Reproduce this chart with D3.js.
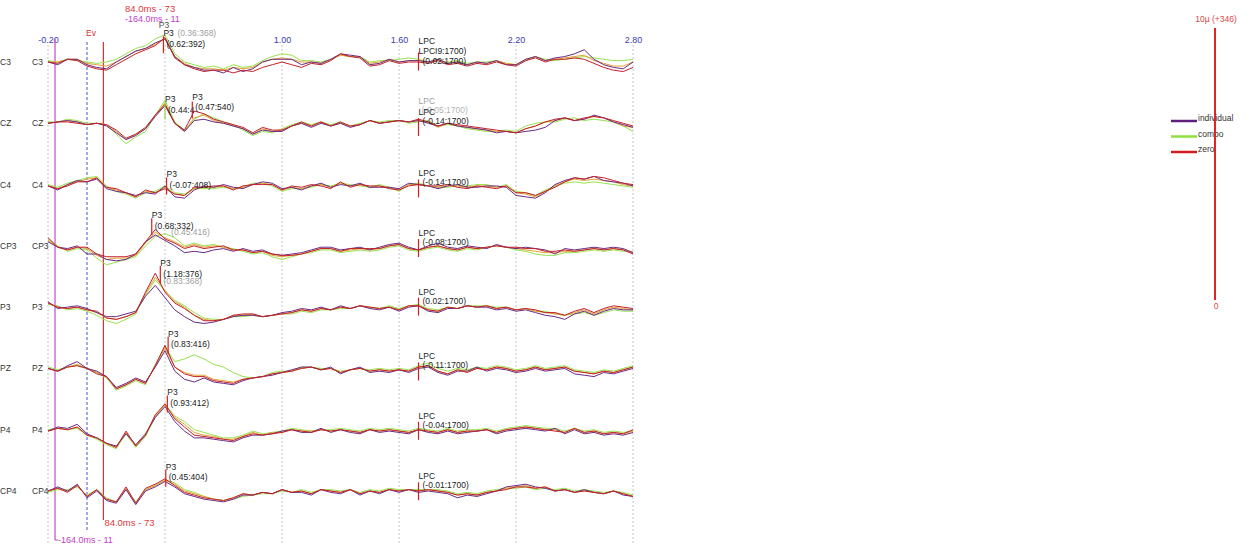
<!DOCTYPE html>
<html><head><meta charset="utf-8">
<script src="https://cdn.jsdelivr.net/npm/d3@7"></script>
<style>body{margin:0;background:#fff}svg{display:block}text{font-family:"Liberation Sans",Arial,sans-serif}</style>
</head><body><svg id="c" width="1253" height="551"></svg>
<script>
const channels = ["C3","CZ","C4","CP3","P3","PZ","P4","CP4"];
const gridTimes = [-0.2, 0.4, 1.0, 1.6, 2.2, 2.8];
const tickValues = [-0.2, 1.0, 1.6, 2.2, 2.8];
const tickLabels = ["-0.20","1.00","1.60","2.20","2.80"];
const legendNames = ["individual","combo","zero"];
// sample times (s), 50 ms steps from -0.2 to 2.8
const times = d3.range(61).map(i => -0.2 + i * 0.05);

// µV values per channel, series "individual"
const individual_C3 = [0,-0.1,0.1,0.1,-0.1,-0.2,-0.25,0,0.2,0.4, 0.5,0.7,0.85,0.2,-0.1,-0.2,-0.3,-0.3,-0.4,-0.2, -0.35,-0.25,0,0.1,0.1,0.1,-0.1,0,-0.05,0.1, 0.3,0.25,0.2,-0.1,-0.05,0.1,0,0.05,0.05,0, 0.1,-0.05,0,-0.1,0,-0.05,0.05,-0.1,-0.1,0.1, 0.2,0.05,0.15,0.2,0.3,0.45,0.1,-0.1,-0.2,-0.25, 0];
const individual_CZ = [0,0.05,0.1,0.05,-0.05,0,-0.1,-0.35,-0.6,-0.45, -0.2,0.25,0.65,0,-0.3,0.1,0.15,0.05,0,-0.1, -0.2,-0.4,-0.25,-0.3,-0.3,-0.1,0,-0.15,0,-0.1, 0,-0.15,-0.05,0.1,0,0.05,0.1,0.05,0.1,0, -0.1,0,-0.1,-0.15,-0.2,-0.25,-0.35,-0.3,-0.35,-0.3, -0.25,-0.15,0.1,0.2,0.1,0.15,0.3,0.2,0.05,-0.05, -0.15];
const individual_C4 = [-0.05,-0.2,0,0.15,0.1,0.2,-0.15,-0.25,-0.3,-0.4, -0.3,-0.35,-0.05,-0.45,-0.5,-0.2,-0.05,-0.1,0,-0.1, -0.15,0,0.1,0.05,-0.15,-0.1,-0.2,-0.05,0.05,-0.1, 0,-0.05,0.05,-0.1,-0.1,-0.1,-0.15,0.05,0,-0.05, -0.15,-0.05,0,-0.1,-0.1,-0.05,-0.05,-0.1,-0.4,-0.45, -0.5,-0.3,0,0.15,0.25,0.2,0.3,0.15,0.1,0.05, -0.05];
const individual_CP3 = [0.15,-0.05,-0.1,0,-0.3,-0.3,-0.5,-0.55,-0.5,-0.3, 0.15,0.4,0.2,0,-0.25,-0.2,-0.25,-0.15,-0.1,-0.2, -0.1,-0.2,-0.15,-0.3,-0.35,-0.3,-0.25,-0.15,-0.05,-0.05, -0.15,-0.1,-0.05,-0.15,-0.05,0.05,0.1,-0.05,-0.15,0, 0.1,-0.05,-0.1,0,-0.05,-0.1,0.05,-0.05,-0.1,-0.05, -0.1,-0.15,-0.3,-0.1,-0.15,-0.1,-0.05,-0.1,-0.05,-0.1, -0.25];
const individual_P3 = [0.2,-0.05,0,0.05,-0.05,-0.2,-0.35,-0.35,-0.25,-0.15, 0.4,0.8,0.35,-0.1,-0.35,-0.55,-0.6,-0.55,-0.45,-0.35, -0.3,-0.3,-0.35,-0.3,-0.2,-0.15,-0.05,-0.1,0,-0.1, 0.05,-0.05,0.05,-0.05,-0.1,0,-0.15,0,0.05,-0.15, -0.2,-0.05,-0.05,0.05,0,0,-0.1,-0.05,-0.15,-0.1, -0.2,-0.3,-0.35,-0.45,-0.25,-0.15,-0.3,-0.15,-0.05,-0.1, -0.1];
const individual_PZ = [0,-0.1,0.1,0.25,0,-0.1,-0.3,-0.7,-0.55,-0.35, -0.5,0.05,0.65,-0.1,-0.4,-0.5,-0.35,-0.5,-0.55,-0.6, -0.45,-0.35,-0.3,-0.25,-0.15,-0.05,0.05,0.05,-0.05,0.05, -0.2,-0.05,0.05,-0.15,-0.1,-0.15,-0.05,-0.15,0,0.05, -0.15,-0.25,-0.1,-0.1,0.05,-0.1,0,-0.05,-0.15,-0.1, 0,-0.1,-0.05,0,-0.2,-0.25,-0.3,-0.15,-0.2,-0.1, 0];
const individual_P4 = [-0.05,0.1,0.05,0.2,-0.15,-0.3,-0.5,-0.6,-0.15,-0.55, -0.15,0.45,0.85,0.3,-0.05,-0.3,-0.3,-0.35,-0.4,-0.45, -0.3,-0.2,-0.2,-0.15,-0.05,0,-0.1,-0.1,0.05,-0.1, 0,-0.1,-0.15,0,-0.1,-0.05,-0.1,-0.15,0,-0.1, -0.15,-0.05,-0.15,-0.1,-0.05,0,-0.15,-0.05,0,0.05, 0,-0.05,0.05,-0.15,0,-0.15,-0.1,-0.2,-0.15,-0.2, -0.1];
const individual_CP4 = [0,0.15,0,0.25,-0.25,0,-0.35,-0.45,0.05,-0.5, 0,0.15,0.35,0.15,-0.1,-0.2,-0.3,-0.35,-0.4,-0.3, -0.15,-0.15,-0.05,-0.1,0.05,-0.05,-0.05,-0.15,0.05,-0.05, -0.1,0.05,-0.15,0,-0.1,0.05,-0.05,0.05,-0.05,0, -0.05,-0.1,-0.25,-0.15,-0.2,-0.1,0,0.15,0.2,0.25, 0.15,0.1,0,0.05,-0.05,0.05,-0.05,-0.1,0,-0.15, -0.2];

// series "combo"
const combo_C3 = [0.05,0,0.1,0.05,0,-0.05,0,0.1,0.3,0.5, 0.6,0.85,1.0,0.3,0,-0.1,-0.2,-0.15,-0.25,-0.1, -0.2,-0.15,0.05,0.2,0.3,0.25,0.05,0.05,0,0.1, 0.25,0.2,0.2,0,0.05,0.05,0.1,0.15,0.1,0, 0.05,0,0.05,-0.05,0,0,0.05,-0.05,-0.1,0.05, 0.2,0.1,0.05,0.1,0.15,0.2,0.15,0.1,0.05,0.05, 0.1];
const combo_CZ = [0.05,0.05,0.15,0.1,0,0,-0.05,-0.4,-0.75,-0.5, -0.3,0.3,0.85,0.05,-0.25,0.15,0.35,0.2,0.05,-0.05, -0.25,-0.45,-0.3,-0.35,-0.2,-0.05,0.05,-0.05,0.05,-0.05, 0.05,-0.1,0,0.1,0.05,0.1,0.1,0,0.05,0.1, -0.1,-0.05,-0.1,-0.2,-0.25,-0.3,-0.3,-0.25,-0.3,-0.1, 0,0.05,0.05,0.15,0.2,0.1,0.15,0.1,0.05,-0.1, -0.3];
const combo_C4 = [0,-0.1,0.05,0.15,0.25,0.3,-0.05,-0.25,-0.35,-0.5, -0.3,-0.25,-0.05,-0.3,-0.35,-0.15,-0.15,-0.15,-0.1,-0.15, -0.1,0.05,0.05,-0.05,-0.25,-0.15,-0.15,-0.1,0,-0.05, 0.05,0,-0.05,-0.1,0,-0.1,-0.25,0,0.05,-0.05, -0.1,-0.1,-0.05,-0.05,0,0,-0.1,0,-0.25,-0.3, -0.4,-0.2,-0.05,0.05,0.1,0.05,0.1,0.05,0,-0.05, -0.1];
const combo_CP3 = [0.25,0,-0.2,-0.1,-0.15,-0.45,-0.7,-0.6,-0.5,-0.4, 0,0.35,0.45,0.3,0,0.1,0,0.05,-0.05,-0.1, -0.2,-0.3,-0.25,-0.4,-0.5,-0.4,-0.3,-0.25,-0.15,-0.15, -0.25,-0.2,-0.15,-0.2,-0.15,-0.05,0,-0.15,-0.2,-0.1, -0.05,-0.15,-0.2,-0.1,-0.15,-0.05,0,-0.05,-0.15,-0.2, -0.3,-0.35,-0.35,-0.25,-0.25,-0.2,-0.15,-0.2,-0.15,-0.2, -0.2];
const combo_P3 = [0.1,0.05,-0.1,-0.05,-0.15,-0.3,-0.5,-0.6,-0.45,-0.25, 0.45,1.0,0.6,0.25,0.05,-0.2,-0.4,-0.45,-0.45,-0.35, -0.35,-0.3,-0.35,-0.3,-0.25,-0.25,-0.15,-0.2,-0.1,-0.1, -0.05,-0.05,0.05,0,-0.05,0.05,-0.05,0.05,0.1,-0.05, -0.1,0,-0.05,0.05,0.05,0.05,0,0,-0.1,-0.05, -0.15,-0.15,-0.25,-0.3,-0.25,-0.2,-0.3,-0.2,-0.1,-0.15, -0.15];
const combo_PZ = [0.05,-0.05,0.05,0.1,0,-0.15,-0.35,-0.8,-0.65,-0.45, -0.6,0.15,0.8,0.25,0.35,0.5,0.35,0.15,0.05,-0.15, -0.3,-0.35,-0.3,-0.15,-0.1,-0.1,0.05,0.05,0,0, -0.1,-0.05,0,-0.05,0,-0.05,0,-0.05,0.1,0.2, 0,-0.1,0,-0.05,0.05,0,0.1,0.05,-0.05,0, 0.1,0,0.05,0.1,-0.05,-0.1,-0.15,-0.05,-0.1,0, 0.1];
const combo_P4 = [0,0.05,0,0.05,-0.2,-0.35,-0.55,-0.7,-0.15,-0.65, -0.25,0.45,0.95,0.5,0.3,0,-0.1,-0.2,-0.3,-0.3, -0.2,-0.05,-0.15,-0.1,-0.05,0.05,0,-0.05,0,0, 0.05,0,-0.05,0.05,0,0.05,0,-0.05,0.05,0, -0.05,0.05,-0.05,0,0,0.05,-0.05,0.05,0.1,0.15, 0.1,0.05,0.05,-0.05,0.05,-0.05,0,-0.1,-0.05,-0.1, -0.05];
const combo_CP4 = [-0.05,0.05,0.05,0.15,-0.15,0.05,-0.25,-0.4,0.05,-0.4, 0.05,0.2,0.4,0.3,0.05,-0.05,-0.2,-0.3,-0.35,-0.3, -0.2,-0.15,-0.1,-0.1,0,-0.05,0.05,-0.05,0.05,0.05, 0,0.05,-0.05,0.05,0,0.1,0.05,0.05,0.05,0.05, 0.05,0,-0.1,-0.05,-0.1,0,0.05,0.1,0.1,0.15, 0.05,0.1,0.05,0.1,0,0.05,0,-0.05,0,-0.05, -0.15];

// series "zero"
const zero_C3 = [0,-0.05,0.1,0.05,-0.15,-0.25,-0.3,-0.1,0.1,0.3, 0.45,0.6,0.9,0.15,-0.1,-0.25,-0.35,-0.3,-0.3,-0.4, -0.3,-0.35,-0.2,-0.1,0,-0.1,-0.2,-0.05,-0.1,0.05, 0.3,0.2,0.15,-0.15,-0.1,0.05,-0.05,0,0,-0.05, 0.05,-0.1,-0.05,-0.15,-0.05,-0.1,0,-0.1,-0.15,0.05, 0.15,0,0.1,0.1,0.15,0.1,-0.05,-0.2,-0.3,-0.35, -0.2];
const zero_CZ = [0,0.05,0.05,0,-0.05,0,-0.05,-0.25,-0.55,-0.4, -0.15,0.3,0.7,0,-0.25,0.45,0.35,0.15,0.05,-0.05, -0.15,-0.35,-0.15,-0.25,-0.25,-0.1,0.05,-0.1,0.05,-0.1, 0.05,-0.1,-0.05,0.1,0,0.05,0.1,0.05,0.15,0.05, -0.1,0,-0.05,-0.1,-0.15,-0.2,-0.25,-0.3,-0.35,-0.2, -0.1,0.05,0.15,0.2,0.1,0.2,0.25,0.2,0.1,0, -0.1];
const zero_C4 = [-0.05,-0.15,-0.05,0.1,0.1,0.25,-0.1,-0.15,-0.3,-0.45, -0.2,-0.3,-0.15,-0.35,-0.4,-0.1,-0.1,-0.05,-0.05,-0.2, -0.05,0,0,0,-0.2,-0.05,-0.1,0,-0.05,-0.15, 0.1,-0.1,0,-0.05,-0.05,-0.15,-0.2,-0.05,0,-0.05, -0.05,0,-0.1,-0.15,-0.05,-0.1,-0.15,-0.05,-0.3,-0.3, -0.4,-0.25,-0.1,0.1,0.25,0.2,0.3,0.25,0.15,0.05, 0];
const zero_CP3 = [0.3,-0.05,-0.15,-0.05,-0.05,-0.3,-0.4,-0.4,-0.4,-0.3, 0.15,0.6,0.25,0.1,-0.1,0,-0.1,-0.05,0,-0.15, -0.15,-0.25,-0.2,-0.3,-0.35,-0.35,-0.3,-0.2,-0.1,-0.1, -0.2,-0.1,-0.1,-0.1,-0.1,0,0.05,-0.1,-0.15,-0.05, 0,-0.1,-0.15,-0.05,-0.1,-0.05,0,-0.05,-0.05,-0.1, -0.1,-0.2,-0.2,-0.15,-0.2,-0.15,-0.1,-0.15,-0.1,-0.15, -0.3];
const zero_P3 = [0.15,0,-0.05,0,-0.1,-0.15,-0.4,-0.45,-0.35,-0.2, 0.55,1.25,0.55,0.15,-0.05,-0.3,-0.5,-0.5,-0.45,-0.3, -0.25,-0.25,-0.35,-0.3,-0.25,-0.2,-0.1,-0.15,-0.05,-0.1, 0,-0.05,0.05,0,-0.05,0,-0.1,0.05,0.05,-0.1, -0.15,0,-0.05,0.05,0,0.05,-0.05,0,-0.1,-0.05, -0.1,-0.2,-0.2,-0.3,-0.15,-0.05,-0.2,-0.05,0.05,0, -0.05];
const zero_PZ = [0,-0.1,0.05,0.1,0,-0.2,-0.3,-0.75,-0.6,-0.4, -0.55,0.1,0.85,0.05,-0.2,-0.3,-0.3,-0.45,-0.5,-0.55, -0.4,-0.35,-0.3,-0.2,-0.15,-0.1,0,0.05,-0.05,0, -0.15,-0.05,0,-0.1,-0.05,-0.1,-0.05,-0.1,0.05,0.1, -0.1,-0.2,-0.05,-0.15,0,-0.05,0.05,0,-0.1,-0.05, 0.05,-0.05,0,0.05,-0.1,-0.15,-0.2,-0.1,-0.15,-0.05, 0.05];
const zero_P4 = [-0.05,0.05,0,0.1,-0.2,-0.3,-0.5,-0.65,-0.05,-0.6, -0.2,0.55,0.95,0.4,0.1,-0.2,-0.25,-0.3,-0.35,-0.4, -0.25,-0.15,-0.2,-0.15,-0.1,0,-0.05,-0.1,0,-0.05, 0,-0.05,-0.1,0,-0.05,0,-0.05,-0.1,0,-0.05, -0.1,0,-0.1,-0.05,-0.05,0,-0.1,0,0.05,0.1, 0.05,0,-0.05,-0.1,0.05,-0.1,-0.05,-0.15,-0.1,-0.15, 0];
const zero_CP4 = [0,0.1,-0.05,0.2,-0.2,0.05,-0.3,-0.4,0.15,-0.45, 0.1,0.25,0.45,0.2,-0.05,-0.15,-0.25,-0.3,-0.35,-0.25, -0.1,-0.15,-0.05,-0.1,0.05,-0.05,0,-0.1,0.05,0, -0.05,0.05,-0.1,0,-0.05,0.05,0,0.05,0,0.05, 0,-0.05,-0.15,-0.1,-0.15,-0.05,0,0.05,0.15,0.15, 0.1,0.15,0,0.05,-0.05,0,-0.05,-0.1,0,-0.1, -0.2];

// unlabelled orange trace
const orange_C3 = [0,0,0.1,0.1,-0.05,-0.1,-0.15,0,0.2,0.4, 0.5,0.65,0.85,0.2,-0.05,-0.2,-0.25,-0.25,-0.3,-0.2, -0.25,-0.2,0,0.1,0.15,0.1,0,0,-0.05,0.1, 0.25,0.2,0.2,-0.05,0,0.1,0,0.05,0.05,0, 0.1,-0.05,0,-0.1,0,-0.05,0.05,-0.05,-0.1,0.1, 0.2,0.05,0.1,0.15,0.2,0.25,0.05,-0.05,-0.15,-0.15, 0];
const orange_CZ = [0,0.05,0.1,0.05,-0.05,0,-0.05,-0.3,-0.6,-0.4, -0.2,0.3,0.75,0,-0.3,0.2,0.3,0.1,0,-0.1, -0.2,-0.4,-0.2,-0.3,-0.25,-0.1,0,-0.1,0.05,-0.1, 0,-0.1,-0.05,0.1,0,0.05,0.1,0.05,0.1,0.05, -0.15,0,-0.1,-0.15,-0.2,-0.25,-0.3,-0.3,-0.35,-0.2, -0.1,0.05,0.1,0.2,0.1,0.15,0.25,0.2,0.05,-0.1, -0.15];
const orange_C4 = [-0.05,-0.15,0,0.1,0.2,0.25,-0.1,-0.2,-0.3,-0.45, -0.25,-0.3,-0.1,-0.35,-0.4,-0.15,-0.1,-0.1,-0.05,-0.15, -0.1,0,0.05,0,-0.2,-0.1,-0.15,-0.05,0,-0.1, 0.05,-0.05,0,-0.1,-0.05,-0.1,-0.2,0,0,-0.05, -0.1,-0.05,-0.05,-0.1,-0.05,-0.05,-0.1,-0.05,-0.3,-0.35, -0.45,-0.25,-0.05,0.1,0.2,0.15,0.2,0.15,0.1,0, -0.05];
const orange_CP3 = [0.2,-0.05,-0.15,-0.05,-0.1,-0.35,-0.5,-0.45,-0.45,-0.35, 0.1,0.5,0.3,0.15,-0.05,0.05,-0.05,0,-0.05,-0.15, -0.15,-0.25,-0.2,-0.35,-0.4,-0.35,-0.3,-0.2,-0.1,-0.1, -0.2,-0.15,-0.1,-0.15,-0.1,0,0.05,-0.1,-0.15,-0.05, 0,-0.1,-0.15,-0.05,-0.1,-0.05,0,-0.05,-0.1,-0.15, -0.2,-0.25,-0.25,-0.2,-0.2,-0.15,-0.1,-0.15,-0.1,-0.15, -0.25];
const orange_P3 = [0.15,0,-0.05,0,-0.1,-0.2,-0.4,-0.45,-0.35,-0.2, 0.5,1.1,0.6,0.2,0,-0.3,-0.45,-0.5,-0.45,-0.3, -0.3,-0.25,-0.35,-0.3,-0.25,-0.2,-0.1,-0.15,-0.05,-0.1, 0,-0.05,0.05,0,-0.05,0,-0.1,0.05,0.05,-0.1, -0.15,0,-0.05,0.05,0,0.05,-0.05,0,-0.1,-0.05, -0.15,-0.2,-0.25,-0.3,-0.2,-0.1,-0.25,-0.1,0,-0.05, -0.1];
const orange_PZ = [0,-0.1,0.05,0.15,0,-0.15,-0.3,-0.75,-0.6,-0.4, -0.55,0.1,0.75,0.05,-0.15,-0.25,-0.25,-0.4,-0.45,-0.5, -0.4,-0.35,-0.3,-0.2,-0.15,-0.1,0,0.05,-0.05,0, -0.15,-0.05,0,-0.1,-0.05,-0.1,-0.05,-0.1,0.05,0.1, -0.1,-0.2,-0.05,-0.1,0,-0.05,0.05,0,-0.1,-0.05, 0.05,-0.05,0,0.05,-0.1,-0.15,-0.2,-0.1,-0.15,-0.05, 0.05];
const orange_P4 = [-0.05,0.05,0,0.1,-0.2,-0.3,-0.5,-0.65,-0.1,-0.6, -0.2,0.5,0.9,0.45,0.2,-0.1,-0.2,-0.25,-0.35,-0.35, -0.25,-0.1,-0.2,-0.1,-0.1,0,-0.05,-0.05,0,-0.05, 0,-0.05,-0.1,0,-0.05,0,-0.05,-0.1,0,-0.05, -0.1,0,-0.1,-0.05,-0.05,0,-0.1,0,0.05,0.1, 0.05,0,0,-0.1,0.05,-0.1,-0.05,-0.15,-0.1,-0.15, -0.05];
const orange_CP4 = [0,0.1,0,0.2,-0.2,0.05,-0.3,-0.4,0.1,-0.45, 0.05,0.2,0.4,0.25,0,-0.1,-0.2,-0.3,-0.35,-0.25, -0.1,-0.15,-0.05,-0.1,0.05,-0.05,0,-0.1,0.05,0, -0.05,0.05,-0.1,0,-0.05,0.05,0,0.05,0,0.05, 0,-0.05,-0.15,-0.1,-0.15,-0.05,0,0.1,0.15,0.2, 0.1,0.15,0,0.05,-0.05,0,-0.05,-0.1,0,-0.1, -0.2];

// peak annotations
const p3Amp = [0.62,0.44,-0.07,0.68,1.18,0.83,0.93,0.45];
const p3Lat = [392,400,408,332,376,416,412,404];
const p3Text = ["(0.62:392)","(0.44:4","(-0.07:408)","(0.68:332)","(1.18:376)","(0.83:416)","(0.93:412)","(0.45:404)"];
const lpcAmp = [0.02,-0.14,-0.14,-0.08,0.02,-0.11,-0.04,-0.01];
const lpcLat = 1700;
const cursorA = -0.164, cursorB = 0.084;

// ---------- drawing ----------
const svg = d3.select("#c");
const x = d3.scaleLinear().domain([-0.2, 2.8]).range([48, 633]);
const rowY = d3.scalePoint().domain(channels).range([62, 491]);
const amp = d3.scaleLinear().domain([0, 10]).range([0, -272]);
const yv = (ch, v) => rowY(ch) + amp(v);

const series = [
  {name:"combo", color:"#97e24f", data:[combo_C3,combo_CZ,combo_C4,combo_CP3,combo_P3,combo_PZ,combo_P4,combo_CP4]},
  {name:"orange", color:"#e2a232", data:[orange_C3,orange_CZ,orange_C4,orange_CP3,orange_P3,orange_PZ,orange_P4,orange_CP4]},
  {name:"individual", color:"#6a2a86", data:[individual_C3,individual_CZ,individual_C4,individual_CP3,individual_P3,individual_PZ,individual_P4,individual_CP4]},
  {name:"zero", color:"#c3202c", data:[zero_C3,zero_CZ,zero_C4,zero_CP3,zero_P3,zero_PZ,zero_P4,zero_CP4]}
];
const legendColors = {individual:"#5e1f7e", combo:"#8fe040", zero:"#d01c1c"};

// grid
svg.append("g").selectAll("line").data(gridTimes).join("line")
  .attr("x1", d => x(d)).attr("x2", d => x(d)).attr("y1", 45).attr("y2", 545)
  .attr("stroke", "#c6c6c6").attr("stroke-dasharray", "2,2");

// axis labels
const ax = svg.append("g").attr("transform", "translate(0,44)")
  .call(d3.axisTop(x).tickValues(tickValues).tickSize(0).tickPadding(1).tickFormat((d,i) => tickLabels[i]));
ax.select(".domain").remove();
ax.selectAll("text").attr("fill", "#3c3cb4").attr("font-size", 9).attr("font-family", '"Liberation Sans",Arial,sans-serif');

// event & cursor lines
svg.append("line").attr("x1", x(0)).attr("x2", x(0)).attr("y1", 42).attr("y2", 532)
  .attr("stroke", "#4654cc").attr("stroke-dasharray", "3,2");
svg.append("line").attr("x1", x(cursorA)).attr("x2", x(cursorA)).attr("y1", 39).attr("y2", 540)
  .attr("stroke", "#c04ccc").attr("stroke-width", 1.2);
svg.append("line").attr("x1", x(cursorA)).attr("x2", x(cursorA)+3).attr("y1", 540).attr("y2", 540)
  .attr("stroke", "#c04ccc");
svg.append("line").attr("x1", x(cursorB)).attr("x2", x(cursorB)).attr("y1", 42).attr("y2", 520)
  .attr("stroke", "#d83030").attr("stroke-width", 1.2);

svg.append("text").attr("x", x(0)-1).attr("y", 36).attr("fill", "#d03030").attr("font-size", 8.5).text("Ev");
svg.append("text").attr("x", 125).attr("y", 12).attr("fill", "#e03a3a").attr("font-size", 9.5).text("84.0ms -  73");
svg.append("text").attr("x", 125).attr("y", 22).attr("fill", "#c040c8").attr("font-size", 9).text("-164.0ms -  11");
svg.append("text").attr("x", x(cursorB)+1).attr("y", 526).attr("fill", "#e03a3a").attr("font-size", 9.5).text("84.0ms -  73");
svg.append("text").attr("x", x(cursorA)+3).attr("y", 543).attr("fill", "#c040c8").attr("font-size", 9).text("-164.0ms -  11");

// channel labels
const lab = svg.append("g").attr("font-size", 8.5).attr("fill", "#333");
channels.forEach(ch => {
  lab.append("text").attr("x", 0).attr("y", rowY(ch)+3).text(ch);
  lab.append("text").attr("x", 32).attr("y", rowY(ch)+3).text(ch);
});

// traces
const line = d3.line().x((d,i) => x(times[i])).y(d => d);
series.forEach(s => {
  const g = svg.append("g");
  channels.forEach((ch, ci) => {
    g.append("path").attr("d", line(s.data[ci].map(v => yv(ch, v))))
      .attr("fill", "none").attr("stroke", s.color).attr("stroke-width", 1).attr("stroke-linejoin", "round");
  });
});

// peak annotations
const ann = svg.append("g").attr("font-size", 8.5).attr("fill", "#222");
channels.forEach((ch, ci) => {
  const xp = x(p3Lat[ci]/1000), yp = yv(ch, p3Amp[ci]);
  ann.append("line").attr("x1", xp).attr("x2", xp).attr("y1", yp-9).attr("y2", yp+8)
    .attr("stroke", ci === 1 ? "#9ad040" : "#d02020").attr("stroke-width", 1.2);
  ann.append("text").attr("x", xp).attr("y", yp-9).text("P3");
  ann.append("text").attr("x", xp+3).attr("y", yp+1.5).text(p3Text[ci]);

  const xl = x(lpcLat/1000), yl = yv(ch, lpcAmp[ci]);
  ann.append("line").attr("x1", xl).attr("x2", xl).attr("y1", yl-9).attr("y2", yl+9)
    .attr("stroke", "#d02020").attr("stroke-width", 1.2);
  const txt = "(" + lpcAmp[ci].toFixed(2) + ":" + lpcLat + ")";
  if (ci === 0) {
    ann.append("text").attr("x", xl).attr("y", yl-17).text("LPC");
    ann.append("text").attr("x", xl).attr("y", yl-7).text("LPCI9:1700)");
    ann.append("text").attr("x", xl+4).attr("y", yl+3).text(txt);
  } else {
    if (ci === 1) {
      ann.append("text").attr("x", xl).attr("y", yl-23).attr("opacity", 0.45).text("LPC");
      ann.append("text").attr("x", xl+3).attr("y", yl-14).attr("opacity", 0.35).text("(-0.05:1700)");
    }
    ann.append("text").attr("x", xl).attr("y", yl-12).text("LPC");
    ann.append("text").attr("x", xl+4).attr("y", yl-3).text(txt);
  }
});
// second P3 peak on CZ (zero series)
{
  const xp = x(0.540), yp = yv("CZ", 0.47);
  ann.append("line").attr("x1", xp).attr("x2", xp).attr("y1", yp-9).attr("y2", yp+8).attr("stroke", "#d02020").attr("stroke-width", 1.2);
  ann.append("text").attr("x", xp).attr("y", yp-11).text("P3");
  ann.append("text").attr("x", xp+3).attr("y", yp-1).text("(0.47:540)");
}
// faded overlapping labels
ann.append("text").attr("x", x(0.368)).attr("y", 28).attr("opacity", 0.8).text("P3");
ann.append("text").attr("x", x(0.392)+14).attr("y", 36).attr("opacity", 0.45).text("(0.36:368)");
ann.append("text").attr("x", x(0.416)+3).attr("y", yv("CP3",0.45)+1).attr("opacity", 0.45).text("(0.45:416)");
ann.append("text").attr("x", x(0.376)+3).attr("y", yv("P3",1.18)+9).attr("opacity", 0.45).text("(0.83:368)");

// legend
const lg = svg.append("g").attr("font-size", 8.5).attr("fill", "#333");
legendNames.forEach((n, i) => {
  const y = 121 + i * 15.5;
  lg.append("line").attr("x1", 1171).attr("x2", 1197).attr("y1", y).attr("y2", y)
    .attr("stroke", legendColors[n]).attr("stroke-width", 2.5);
  lg.append("text").attr("x", 1198).attr("y", y).text(n);
});

// amplitude scale bar
const y0 = 300;
svg.append("line").attr("x1", 1215).attr("x2", 1215).attr("y1", y0 + amp(0)).attr("y2", y0 + amp(10))
  .attr("stroke", "#e02424").attr("stroke-width", 2);
svg.append("text").attr("x", 1216).attr("y", y0 + amp(10) - 6).attr("text-anchor", "middle")
  .attr("fill", "#e04848").attr("font-size", 8.5).text("10µ (+346)");
svg.append("text").attr("x", 1216).attr("y", y0 + amp(0) + 9).attr("text-anchor", "middle")
  .attr("fill", "#e04848").attr("font-size", 8.5).text("0");
</script></body></html>
